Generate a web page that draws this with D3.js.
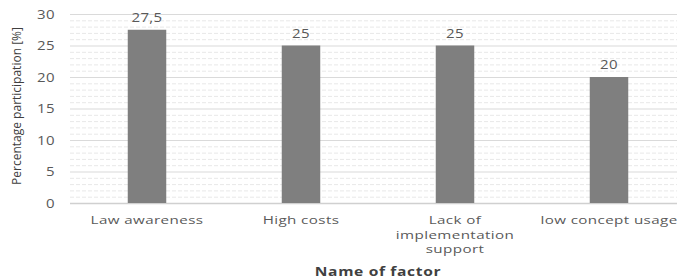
<!DOCTYPE html>
<html><head><meta charset="utf-8">
<script src="https://cdn.jsdelivr.net/npm/d3@7"></script>
<style>body{margin:0;background:#fff;} svg{display:block;}</style>
</head><body>
<svg id="c" width="677" height="280"></svg>
<script>
const categories = ["Law awareness", "High costs", "Lack of implementation support", "low concept usage"];
const categoryLines = [["Law awareness"], ["High costs"], ["Lack of", "implementation", "support"], ["low concept usage"]];
const values = [27.5, 25, 25, 20];
const valueLabels = ["27,5", "25", "25", "20"];
const yTicks = [0, 5, 10, 15, 20, 25, 30];
const yTitle = "Percentage participation [%]";
const xTitle = "Name of factor";

const svg = d3.select("#c");
const x = d3.scaleBand().domain(categories).range([70, 686]).paddingInner(0.75).paddingOuter(0.375);
const y = d3.scaleLinear().domain([0, 30]).range([203, 14]);

// minor grid
const minor = d3.range(1, 30).filter(v => v % 5 !== 0);
svg.append("g").selectAll("line").data(minor).join("line")
  .attr("x1", 70).attr("x2", 677).attr("y1", d => y(d) + 0.5).attr("y2", d => y(d) + 0.5)
  .attr("stroke", "#e8e8e8").attr("stroke-dasharray", "4,2").attr("stroke-width", 1);
// major grid
svg.append("g").selectAll("line").data(yTicks).join("line")
  .attr("x1", 70).attr("x2", 677).attr("y1", d => y(d) + 0.5).attr("y2", d => y(d) + 0.5)
  .attr("stroke", d => d === 0 ? "#d0d0d0" : "#dadada").attr("stroke-width", d => d === 0 ? 1.5 : 1.2);

// bars
svg.append("g").selectAll("rect").data(values).join("rect")
  .attr("x", (d, i) => x(categories[i])).attr("width", x.bandwidth())
  .attr("y", d => y(d)).attr("height", d => y(0) - y(d))
  .attr("fill", "#7f7f7f");

function stext(g, tx, ty, txt, opts) {
  return g.append("text").attr("transform", `translate(${tx},${ty}) scale(${opts.sx || 1.32},1)`)
    .attr("text-anchor", opts.anchor || "middle")
    .attr("font-family", "Open Sans")
    .attr("font-size", opts.size || 11.5)
    .attr("font-weight", opts.weight || "normal")
    .attr("letter-spacing", opts.ls || 0.3)
    .attr("fill", opts.fill || "#595959")
    .text(txt);
}

// value labels
const vg = svg.append("g");
values.forEach((v, i) => stext(vg, x(categories[i]) + x.bandwidth() / 2, y(v) - 8, valueLabels[i], {size: 12, sx: 1.25}));

// y ticks
const yg = svg.append("g");
yTicks.forEach(t => stext(yg, 55, y(t) + 4.5, String(t), {anchor: "end", size: 12, sx: 1.25}));

// x category labels
const xg = svg.append("g");
categoryLines.forEach((lines, i) => {
  lines.forEach((ln, j) => stext(xg, x(categories[i]) + x.bandwidth() / 2, 224 + j * 14.5, ln, {size: 11.5}));
});

// x title
stext(svg, 378, 276, xTitle, {size: 12, weight: "bold", fill: "#404040", ls: 0.5, sx: 1.3});

// y title
svg.append("text").attr("transform", "translate(21,106) rotate(-90)")
  .attr("text-anchor", "middle").attr("font-family", "Open Sans").attr("font-size", 12)
  .attr("fill", "#404040").text(yTitle);
</script>
</body></html>
